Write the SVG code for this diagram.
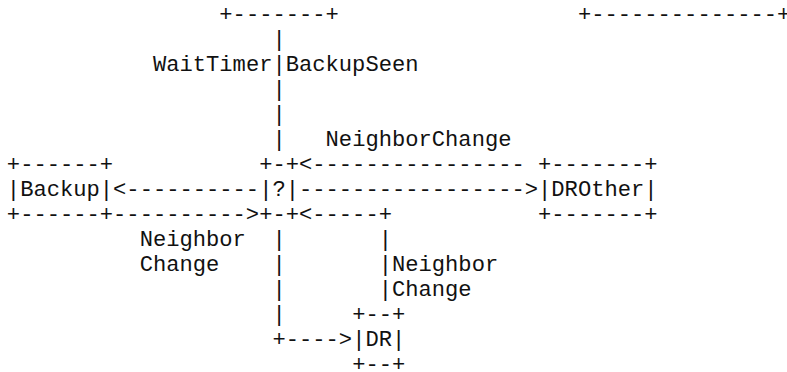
<svg xmlns="http://www.w3.org/2000/svg" width="787" height="372" viewBox="0 0 787 372">
<style>
text{font-family:"Liberation Mono","Courier New",monospace;font-size:22.13px;fill:#111;white-space:pre}
</style>
<rect width="787" height="372" fill="#fff"/>
<g id="node-top-left">
<text x="219.34" y="20.8">+-------+</text>
</g>
<g id="node-top-right">
<text x="577.90" y="20.8">+--------------+</text>
</g>
<g id="node-backup">
<text x="6.86" y="170.8">+------+</text>
<text x="6.86" y="195.8">|Backup|</text>
<text x="6.86" y="220.8">+------+</text>
</g>
<g id="node-q">
<text x="259.18" y="170.8">+-+</text>
<text x="259.18" y="195.8">|?|</text>
<text x="259.18" y="220.8">+-+</text>
</g>
<g id="node-drother">
<text x="538.06" y="170.8">+-------+</text>
<text x="538.06" y="195.8">|DROther|</text>
<text x="538.06" y="220.8">+-------+</text>
</g>
<g id="node-dr">
<text x="352.14" y="320.8">+--+</text>
<text x="352.14" y="345.8">|DR|</text>
<text x="352.14" y="370.8">+--+</text>
</g>
<g id="connectors">
<text x="272.46" y="45.8">|</text>
<text x="272.46" y="70.8">|</text>
<text x="272.46" y="95.8">|</text>
<text x="272.46" y="120.8">|</text>
<text x="272.46" y="145.8">|</text>
<text x="299.02" y="170.8">&lt;----------------</text>
<text x="113.10" y="195.8">&lt;----------</text>
<text x="299.02" y="195.8">-----------------&gt;</text>
<text x="113.10" y="220.8">----------&gt;</text>
<text x="299.02" y="220.8">&lt;-----+</text>
<text x="272.46" y="245.8">|</text>
<text x="378.70" y="245.8">|</text>
<text x="272.46" y="270.8">|</text>
<text x="378.70" y="270.8">|</text>
<text x="272.46" y="295.8">|</text>
<text x="378.70" y="295.8">|</text>
<text x="272.46" y="320.8">|</text>
<text x="272.46" y="345.8">+----&gt;</text>
</g>
<g id="labels">
<text x="152.94" y="70.8">WaitTimer</text>
<text x="285.74" y="70.8">BackupSeen</text>
<text x="325.58" y="145.8">NeighborChange</text>
<text x="139.66" y="245.8">Neighbor</text>
<text x="139.66" y="270.8">Change</text>
<text x="391.98" y="270.8">Neighbor</text>
<text x="391.98" y="295.8">Change</text>
</g>
</svg>
